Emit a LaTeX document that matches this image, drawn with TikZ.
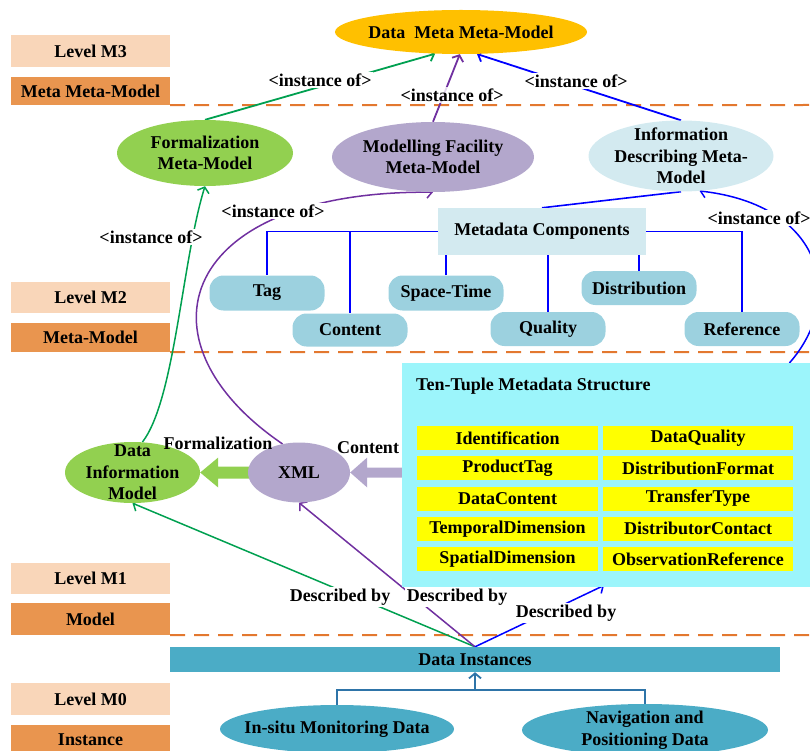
\documentclass[tikz,border=0pt]{standalone}
\usepackage{fontspec}
\setmainfont{Liberation Serif}
\usetikzlibrary{arrows.meta,calc,backgrounds,shapes.geometric}

\definecolor{lvllight}{HTML}{F9D6B9}
\definecolor{lvldark}{HTML}{E9954F}
\definecolor{dashor}{HTML}{E3782F}
\definecolor{gold}{HTML}{FFC000}
\definecolor{leaf}{HTML}{92D050}
\definecolor{lav}{HTML}{B3A7CC}
\definecolor{pale}{HTML}{D3EAF0}
\definecolor{comp}{HTML}{9CD1DF}
\definecolor{cyanbox}{HTML}{9CF5FB}
\definecolor{inst}{HTML}{4BACC6}
\definecolor{lngreen}{HTML}{00A050}
\definecolor{lnpurple}{HTML}{7030A0}
\definecolor{lnblue}{HTML}{0000FF}
\definecolor{treeblue}{HTML}{2E74A8}
\definecolor{cellyellow}{HTML}{FFFF00}

\tikzset{
  lvlA/.style={rectangle, fill=lvllight, minimum width=159pt, minimum height=31pt, inner sep=0pt},
  lvlB/.style={rectangle, fill=lvldark, minimum width=159pt, minimum height=29pt, inner sep=0pt},
  oval/.style={ellipse, inner sep=-20pt, align=center},
  pill/.style={rectangle, rounded corners=14pt, fill=comp, minimum width=115pt, minimum height=34pt, inner sep=0pt},
  cell/.style={rectangle, fill=cellyellow, minimum height=24pt, inner sep=0pt},
  tag/.style={fill=white, inner sep=1.5pt},
  barb/.style={-{Straight Barb[length=5pt,width=12pt]}},
  instarrow/.style={barb, line width=1.8pt},
  curvearrow/.style={barb, line width=1.5pt},
  descarrow/.style={barb, line width=1.5pt},
  compline/.style={lnblue, line width=1.6pt},
  treeline/.style={treeblue, line width=1.8pt},
  sepline/.style={dashor, line width=2pt, dash pattern=on 15pt off 9pt},
}

\begin{document}
\begin{tikzpicture}[x=1pt, y=-1pt, font=\fontsize{18}{21.5}\selectfont\bfseries,
  every node/.style={text=black}]
\useasboundingbox (0,0) rectangle (810,751);

% level captions on the left
\node[lvlA, minimum height=32pt] (m3)  at (90.5,51)    {Level M3};
\node[lvlB, minimum height=28pt] (m3n) at (90.5,91)    {Meta Meta-Model};
\node[lvlA] (m2)  at (90.5,297.5) {Level M2};
\node[lvlB] (m2n) at (90.5,337.5) {Meta-Model};
\node[lvlA] (m1)  at (90.5,578.5) {Level M1};
\node[lvlB, minimum height=32pt] (m1n) at (90.5,619) {Model};
\node[lvlA, minimum height=32pt] (m0)  at (90.5,699) {Level M0};
\node[lvlB, minimum height=30pt] (m0n) at (90.5,740) {Instance};

% M3
\node[oval, fill=gold, minimum width=252pt, minimum height=44pt] (dmm) at (461,32) {Data\ \ Meta Meta-Model};

% M2
\node[oval, fill=leaf, minimum width=176pt, minimum height=66pt] (form) at (205,153) {Formalization\\Meta-Model};
\node[oval, fill=lav, minimum width=202pt, minimum height=70pt] (mfm) at (433,157) {Modelling Facility\\Meta-Model};
\node[oval, fill=pale, minimum width=185pt, minimum height=71pt] (idm) at (681,156) {Information\\Describing Meta-\\Model};
\node[rectangle, fill=pale, minimum width=208pt, minimum height=47pt, inner sep=0pt] (mc) at (542,231.5) {Metadata Components};
\node[pill, minimum height=35pt] (tag)     at (267,293) {Tag};
\node[pill, minimum height=33pt] (content) at (350,330) {Content};
\node[pill, minimum height=35pt] (st)      at (446,293) {Space-Time};
\node[pill] (qual)    at (548,329) {Quality};
\node[pill] (dist)    at (639,288) {Distribution};
\node[pill] (ref)     at (742,329) {Reference};

% M1
\node[rectangle, fill=cyanbox, minimum width=408pt, minimum height=224pt, inner sep=0pt, anchor=north west] (tt) at (402,363) {};
\node[anchor=west, inner sep=0pt] (ttt) at (416,386) {Ten-Tuple Metadata Structure};
\foreach \i/\l/\r in {0/Identification/DataQuality,
                      1/ProductTag/DistributionFormat,
                      2/DataContent/TransferType,
                      3/TemporalDimension/DistributorContact,
                      4/SpatialDimension/ObservationReference} {
  \node[cell, minimum width=181pt] (cl\i) at (507.5,{438+30.25*\i}) {\l};
  \node[cell, minimum width=190pt] (cr\i) at (698,{438+30.25*\i}) {\r};
}
\node[oval, fill=leaf, minimum width=135pt, minimum height=61pt] (dim) at (132.5,472.5) {Data\\Information\\Model};
\node[oval, fill=lav, minimum width=102pt, minimum height=60pt] (xml) at (299,472.5) {XML};
\node[inner sep=0pt] (lform) at (218,443) {Formalization};
\node[inner sep=0pt] (lcont) at (368,448) {Content};

% M0
\node[rectangle, fill=inst, minimum width=610pt, minimum height=25pt, inner sep=0pt] (di) at (475,659.5) {Data Instances};
\node[oval, fill=inst, minimum width=234pt, minimum height=48pt] (insitu) at (337,729) {In-situ Monitoring Data};
\node[oval, fill=inst, minimum width=246pt, minimum height=52pt] (nav) at (645,730) {Navigation and\\Positioning Data};

\coordinate (ttin)  at ($(tt.south west)+(202,-2)$);
\coordinate (ttout) at ($(tt.north east)+(-21,0)$);
\coordinate (jn)    at ($(di.south)+(0,18)$);

\begin{scope}[on background layer]
  % level separators
  \draw[sepline] (m3n.south east) -- (810,105);
  \draw[sepline] (m2n.south east) -- (810,352);
  \draw[sepline] (m1n.south east) -- (810,635);

  % instance-of links to the meta meta-model
  \draw[instarrow, lngreen]  (form.north) -- (dmm.-140);
  \draw[instarrow, lnpurple] (mfm.north)  -- (dmm.-93);
  \draw[instarrow, lnblue]   (idm.north)  -- (dmm.-54);

  % metadata component tree
  \draw[compline] (mc.north) -- (idm.south);
  \draw[compline] (mc.west) -| (tag.north);
  \draw[compline] (mc.west) -| (content.north);
  \draw[compline] (st.north) -- (st.north |- mc.south);
  \draw[compline] (qual.north) -- (qual.north |- mc.south);
  \draw[compline] (dist.north) -- (dist.north |- mc.south);
  \draw[compline] (mc.east) -| (ref.north);

  % instance-of links from M1 to M2
  \draw[curvearrow, lngreen]  (dim.72) .. controls (175,400) and (182,260) .. (form.south);
  \draw[curvearrow, lnpurple] (xml.120) .. controls (130,340) and (180,190) .. (mfm.south);
  \draw[curvearrow, lnblue]   (ttout) .. controls (845,300) and (825,205) .. (idm.-62);

  % block arrows Ten-Tuple -> XML -> Data Information Model
  \fill[leaf] (dim.east) -- ++(18,-15) -- ++(0,9) -- ($(xml.west)+(2,-6)$)
              -- ($(xml.west)+(2,6)$) -- ($(dim.east)+(18,6)$) -- ($(dim.east)+(18,15)$) -- cycle;
  \fill[lav] (xml.east) -- ++(17,-15) -- ++(0,10) -- ($(tt.west |- xml.east)+(1,-5)$)
             -- ($(tt.west |- xml.east)+(1,5)$) -- ($(xml.east)+(17,5)$) -- ($(xml.east)+(17,15)$) -- cycle;

  % described-by links
  \draw[descarrow, lngreen]  (di.north) -- (dim.south);
  \draw[descarrow, lnpurple] (di.north) -- (xml.south);
  \draw[descarrow, lnblue]   (di.north) -- (ttin);

  % data instance sources
  \draw[treeline] (insitu.north) |- (jn) -| (nav.north);
  \draw[treeline, barb] (jn) -- (di.south);
\end{scope}

% link labels
\node[tag] (i1) at (320,80) {<instance of>};
\node[tag, fill opacity=0.8, text opacity=1] (i2) at (452,95) {<instance of>};
\node[tag] (i3) at (576,81) {<instance of>};
\node[tag] (i4) at (273,211) {<instance of>};
\node[tag] (i5) at (151,237) {<instance of>};
\node[tag] (i6) at (759,218) {<instance of>};
\node[tag] (d1) at (340,597) {Described by};
\node[tag] (d2) at (457,597) {Described by};
\node[tag] (d3) at (566,613) {Described by};

\end{tikzpicture}
\end{document}
